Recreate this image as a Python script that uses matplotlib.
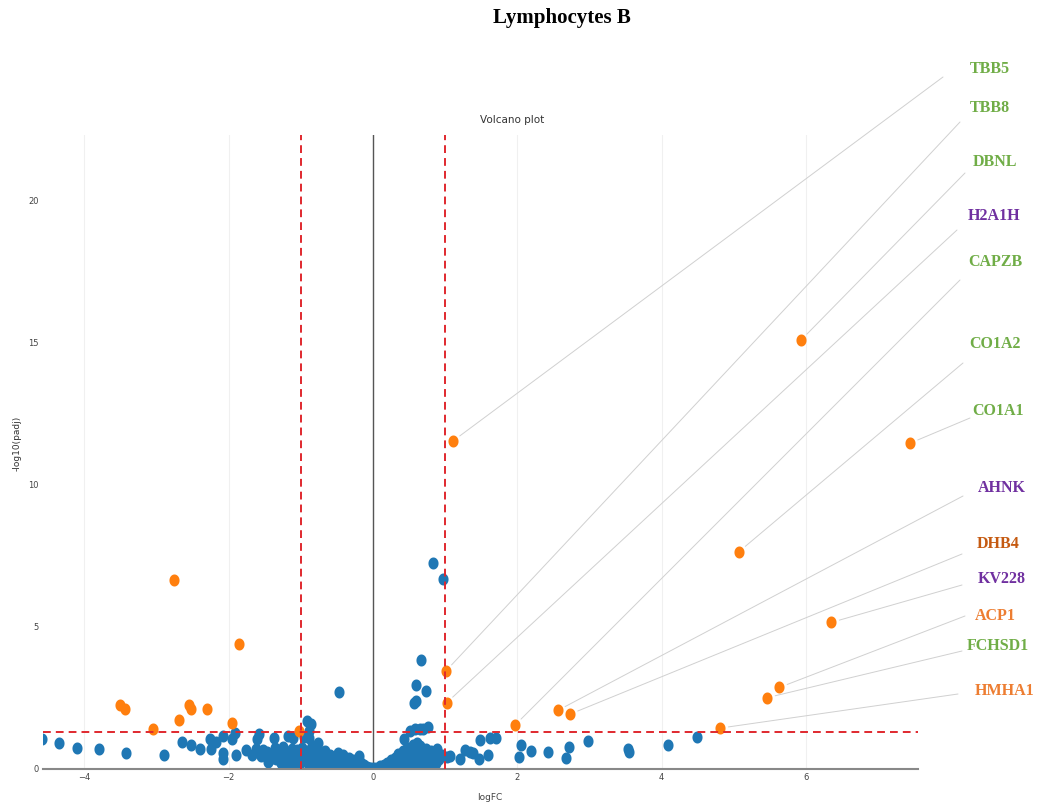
import matplotlib.pyplot as plt
from matplotlib.path import Path
import numpy as np

W, H = 1041, 806

# labelled proteins: logFC and -log10(padj)
genes = ["TBB5", "TBB8", "DBNL", "H2A1H", "CAPZB", "CO1A2", "CO1A1",
         "AHNK", "DHB4", "KV228", "ACP1", "FCHSD1", "HMHA1"]
gene_fc = [1.11, 1.01, 5.93, 1.02, 1.97, 5.07, 7.44, 2.56, 2.73, 6.35, 5.63, 5.46, 4.81]
gene_p = [11.55, 3.45, 15.10, 2.33, 1.55, 7.65, 11.47, 2.06, 1.93, 5.16, 2.87, 2.51, 1.44]

# other significant proteins (left side)
down_fc = [-2.76, -1.86, -3.50, -3.44, -2.55, -2.52, -2.30, -2.69, -3.05, -1.95, -1.03]
down_p = [6.65, 4.40, 2.25, 2.11, 2.25, 2.12, 2.12, 1.73, 1.40, 1.61, 1.34]

# non significant proteins
ns_fc = [
    # left tail
    -4.58, -4.35, -4.10, -3.80, -3.42, -2.90, -2.65, -2.52, -2.39, -2.26, -2.24, -2.17,
    -2.07, -2.07, -2.07, -1.95, -1.91, -1.89, -1.76, -1.68, -1.62, -1.60, -1.58, -1.52,
    -1.47, -1.44, -1.37, -1.36, -1.29, -1.18, -1.11, -1.22, -1.05, -0.96, -0.92, -0.86,
    -0.88, -0.89, -0.47, -0.76, -0.19, -1.40, -1.55, -1.45, -1.25,
    # left blob
    -1.34, -1.30, -1.27, -1.25, -1.22, -1.20, -1.17, -1.15, -1.12, -1.10, -1.08, -1.05,
    -1.02, -1.00, -0.98, -0.96, -0.93, -0.91, -0.89, -0.87, -0.85, -0.83, -0.81, -0.79,
    -0.77, -0.75, -0.73, -0.71, -0.69, -0.67, -0.65, -0.63, -0.61, -0.59, -0.57, -0.55,
    -0.53, -0.51, -0.49, -0.47, -0.45, -0.43, -0.41, -0.39, -0.37, -0.35, -0.33, -0.31,
    -0.29, -0.27, -0.25, -0.23, -0.21, -0.17, -0.15, -0.13, -0.11, -0.08, -0.05, -0.02,
    # right blob
    0.02, 0.05, 0.08, 0.10, 0.13, 0.15, 0.18, 0.20, 0.22, 0.25, 0.27, 0.29,
    0.31, 0.33, 0.35, 0.37, 0.39, 0.41, 0.43, 0.45, 0.47, 0.49, 0.51, 0.53,
    0.55, 0.57, 0.59, 0.61, 0.63, 0.65, 0.67, 0.69, 0.71, 0.73, 0.75, 0.77,
    0.79, 0.81, 0.83, 0.85, 0.87, 0.89, 0.92, 0.95,
    # right tail
    0.83, 0.97, 0.67, 0.59, 0.74, 0.57, 0.60, 0.51, 0.58, 0.65, 0.70, 0.76,
    0.43, 0.61, 1.02, 1.07, 1.20, 1.27, 1.34, 1.39, 1.47, 1.48, 1.62, 1.70,
    1.59, 2.05, 2.02, 2.19, 2.42, 2.67, 2.72, 2.98, 3.55, 3.53, 4.09, 4.49,
]
ns_p = [
    1.06, 0.92, 0.74, 0.70, 0.56, 0.50, 0.95, 0.85, 0.70, 1.06, 0.70, 0.95,
    1.16, 0.56, 0.34, 1.06, 1.27, 0.48, 0.67, 0.48, 0.70, 1.06, 1.24, 0.67,
    0.60, 0.32, 1.09, 0.74, 0.56, 1.16, 1.09, 0.49, 0.67, 1.12, 1.70, 1.57,
    1.33, 1.09, 2.71, 0.92, 0.45, 0.40, 0.45, 0.25, 0.78,
    0.35, 0.55, 0.20, 0.45, 0.62, 0.30, 0.10, 0.50, 0.70, 0.25, 0.42, 0.60,
    0.15, 0.35, 0.75, 0.50, 0.28, 0.62, 0.08, 0.45, 0.80, 0.32, 0.58, 0.18,
    0.70, 0.40, 0.55, 0.12, 0.30, 0.62, 0.45, 0.22, 0.05, 0.50, 0.35, 0.15,
    0.42, 0.28, 0.55, 0.10, 0.38, 0.22, 0.48, 0.05, 0.30, 0.18, 0.40, 0.25,
    0.10, 0.33, 0.20, 0.05, 0.15, 0.22, 0.08, 0.14, 0.03, 0.06, 0.02, 0.04,
    0.02, 0.05, 0.03, 0.10, 0.06, 0.15, 0.04, 0.22, 0.12, 0.30, 0.08, 0.20,
    0.40, 0.15, 0.52, 0.30, 0.05, 0.62, 0.20, 0.42, 0.75, 0.12, 0.55, 0.30,
    0.85, 0.05, 0.45, 0.68, 0.22, 0.80, 0.38, 0.10, 0.58, 0.72, 0.28, 0.50,
    0.15, 0.65, 0.40, 0.55, 0.20, 0.70, 0.35, 0.48,
    7.24, 6.70, 3.83, 2.96, 2.75, 2.31, 2.40, 1.35, 1.41, 1.40, 1.40, 1.47,
    1.05, 0.93, 0.43, 0.47, 0.36, 0.67, 0.60, 0.55, 0.34, 1.02, 1.08, 1.08,
    0.49, 0.84, 0.42, 0.64, 0.61, 0.40, 0.76, 0.98, 0.61, 0.70, 0.85, 1.12,
]

# label styling and placement (figure pixels)
label_colors = ["#70ad47", "#70ad47", "#70ad47", "#7030a0", "#70ad47", "#70ad47", "#70ad47",
                "#7030a0", "#c55a11", "#7030a0", "#ed7d31", "#70ad47", "#ed7d31"]
label_pos = [(990, 69), (990, 108), (995, 162), (994, 216), (995, 262), (995, 344), (998, 411),
             (1002, 488), (998, 544), (1002, 579), (995, 616), (998, 646), (1005, 691)]
line_end = [(943, 77), (960, 122), (965, 173), (957, 230), (960, 280), (963, 363), (970, 418),
            (963, 496), (962, 554), (962, 585), (965, 616), (962, 651), (958, 694)]


def fig_xy(px, py):
    return px / W, 1 - py / H


# slightly tall oval dot, like the stretched source image
t = np.linspace(0, 2 * np.pi, 40)
oval = Path(np.column_stack([0.42 * np.cos(t), 0.5 * np.sin(t)]), closed=True)

fig = plt.figure(figsize=(W / 100, H / 100), dpi=100)
ax = fig.add_axes([43 / W, 1 - 769 / H, (918 - 43) / W, (769 - 135) / H])
ax.set_axisbelow(True)

ax.scatter(ns_fc, ns_p, s=75, marker=oval, color="#1f77b4", linewidths=0, zorder=2)
ax.scatter(down_fc, down_p, s=75, marker=oval, color="#ff7f0e", linewidths=0, zorder=2)
ax.scatter(gene_fc, gene_p, s=75, marker=oval, color="#ff7f0e", linewidths=0, zorder=2)

# thresholds
dash = dict(color="#e0282e", lw=1.4, dashes=(4, 2.6), zorder=3)
ax.axvline(-1, **dash)
ax.axvline(1, **dash)
ax.axhline(1.3, **dash)
ax.axvline(0, color="#555555", lw=1, zorder=1.8)

ax.set_xlim(-4.57, 7.55)
ax.set_ylim(0, 22.32)
ax.set_xticks([-4, -2, 0, 2, 4, 6])
ax.set_xticklabels(["\u22124", "\u22122", "0", "2", "4", "6"])
ax.set_yticks([0, 5, 10, 15, 20])
ax.tick_params(length=0, labelsize=6, labelcolor="#444444", pad=3)
ax.grid(axis="x", color="#f0f0f0", lw=0.8)
for side in ["top", "right", "left"]:
    ax.spines[side].set_visible(False)
ax.spines["bottom"].set_color("#888888")
ax.spines["bottom"].set_linewidth(1.5)

for i, g in enumerate(genes):
    ax.annotate("", xy=(gene_fc[i], gene_p[i]), xycoords="data",
                xytext=fig_xy(*line_end[i]), textcoords="figure fraction",
                arrowprops=dict(arrowstyle="-", color="#d0d0d0", lw=0.7,
                                shrinkA=0, shrinkB=6),
                annotation_clip=False)
    fx, fy = fig_xy(*label_pos[i])
    fig.text(fx, fy, g, color=label_colors[i], fontsize=11.5, fontweight="bold",
             family="Liberation Serif", ha="center", va="center")

fig.text(*fig_xy(562, 18), "Lymphocytes B", fontsize=15, fontweight="bold",
         family="Liberation Serif", ha="center", va="center")
fig.text(*fig_xy(512, 120), "Volcano plot", fontsize=7.5, color="#333333",
         ha="center", va="center")
fig.text(*fig_xy(490, 797), "logFC", fontsize=6.5, color="#444444",
         ha="center", va="center")
fig.text(*fig_xy(17, 443), "-log10(padj)", fontsize=6.5, color="#333333",
         rotation=90, ha="center", va="center")

fig.savefig("out.png", dpi=100)
